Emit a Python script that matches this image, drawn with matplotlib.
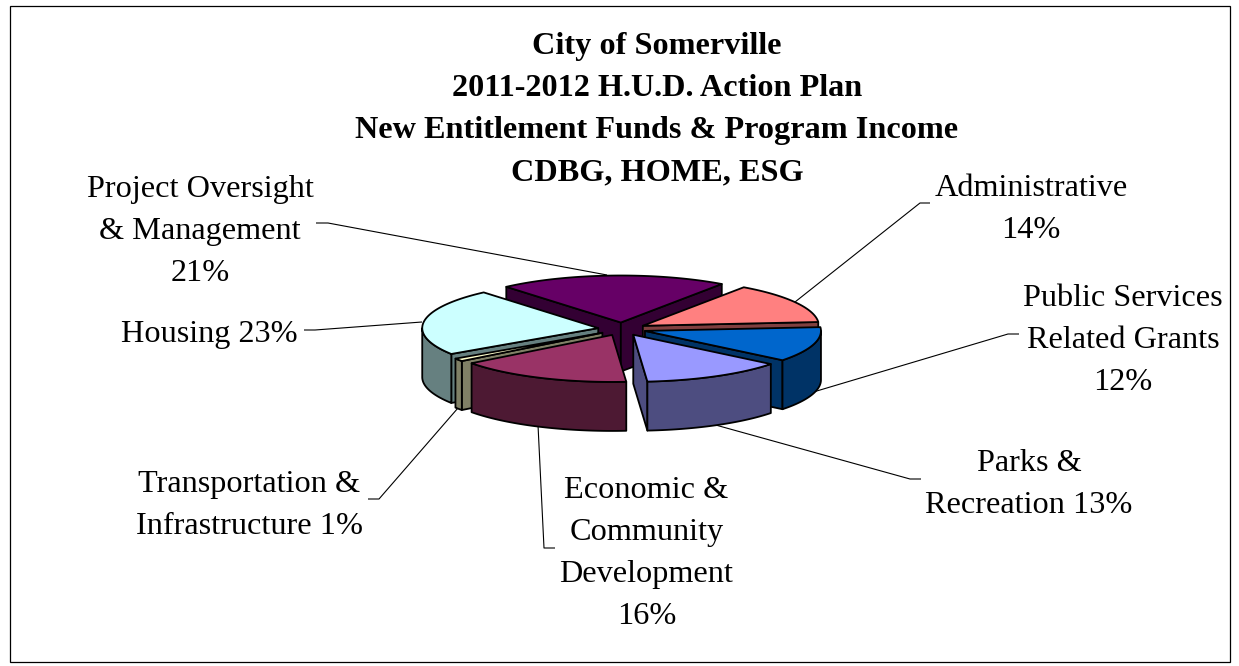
import numpy as np
import matplotlib
matplotlib.use("Agg")
import matplotlib.pyplot as plt
from matplotlib.patches import Polygon, Rectangle

# ---- data ----
categories = ["Administrative", "Public Services Related Grants", "Parks & Recreation",
              "Economic & Community Development", "Transportation & Infrastructure",
              "Housing", "Project Oversight & Management"]
shares = [14, 12, 13, 16, 1, 23, 21]
top_colors = ["#FF8080", "#0066CC", "#9999FF", "#993366", "#FFFFCC", "#CCFFFF", "#660066"]
side_colors = ["#804040", "#003366", "#4D4D80", "#4D1933", "#808066", "#668080", "#330033"]
title_lines = ["City of Somerville", "2011-2012 H.U.D. Action Plan",
               "New Entitlement Funds & Program Income", "CDBG, HOME, ESG"]
label_texts = [["Administrative", "14%"], ["Public Services", "Related Grants", "12%"],
               ["Parks &", "Recreation 13%"],
               ["Economic &", "Community", "Development", "16%"],
               ["Transportation &", "Infrastructure 1%"],
               ["Housing 23%"], ["Project Oversight", "& Management", "21%"]]

# ---- layout (pixel-like axes coordinates) ----
W, H = 1239, 666
CX, CY = 622, 329
RX, RY = 176, 47
DEPTH = 49
EXPLODE_X, EXPLODE_Y = 24, 6.5
START = 35.0
paint_order = [6, 0, 5, 1, 4, 2, 3]
TITLE_X, TITLE_Y0 = 657, 54
PITCH = 42
label_anchor = [(1031, 196), (1123, 306), (1029, 471), (646.5, 498), (249, 492), (209, 342), (200, 197)]
leaders = [[(795, 302), (920, 203), (930, 203)],
           [(810, 393), (1008, 334), (1019, 334)],
           [(712, 424), (910, 479), (921, 479)],
           [(538, 425), (544, 548), (555, 548)],
           [(458, 408), (379, 499), (368, 499)],
           [(422, 322), (315, 330), (304, 330)],
           [(607, 275), (328, 223), (316, 223)]]
SERIF = "Liberation Serif"
FS = 23.2
LW = 1.3

fig = plt.figure(figsize=(W / 100, H / 100), dpi=100)
ax = fig.add_axes([0, 0, 1, 1])
ax.set_xlim(0, W)
ax.set_ylim(H, 0)
ax.axis("off")
ax.add_patch(Rectangle((9.5, 6.2), 1220.5, 655.3, fc="white", ec="black", lw=0.9, zorder=0))


def rim(th, ox, oy, dz=0.0):
    t = np.radians(th)
    return np.column_stack([ox + RX * np.sin(t), oy - RY * np.cos(t) + dz])


bounds = START + np.concatenate([[0], np.cumsum(shares)]) * 3.6
z = 2
for i in paint_order:
    a, b = bounds[i], bounds[i + 1]
    mid = np.radians((a + b) / 2)
    ox = CX + EXPLODE_X * np.sin(mid)
    oy = CY - EXPLODE_Y * np.cos(mid)
    apex = np.array([[ox, oy]])
    style = dict(ec="black", lw=LW, joinstyle="round", zorder=z)
    # radial walls that face the viewer
    for th, visible in ((a, np.sin(np.radians(a)) < 0), (b, np.sin(np.radians(b)) > 0)):
        if visible:
            e = rim(np.array([th]), ox, oy)
            wall = np.vstack([apex, e, e + [0, DEPTH], apex + [0, DEPTH]])
            ax.add_patch(Polygon(wall, fc=side_colors[i], **style))
    # outer wall: the part of the arc facing the viewer
    for lo, hi in ((a, b), (a - 360, b - 360)):
        l, h = max(lo, 90), min(hi, 270)
        if h > l:
            th = np.linspace(l, h, 80)
            upper = rim(th, ox, oy)
            ax.add_patch(Polygon(np.vstack([upper, rim(th[::-1], ox, oy, DEPTH)]),
                                 fc=side_colors[i], **style))
    # top face
    th = np.linspace(a, b, 160)
    ax.add_patch(Polygon(np.vstack([apex, rim(th, ox, oy)]), fc=top_colors[i], **style))
    z += 1

for pts in leaders:
    xs, ys = zip(*pts)
    ax.plot(xs, ys, color="black", lw=0.8, zorder=1, solid_capstyle="butt")

for k, line in enumerate(title_lines):
    ax.text(TITLE_X, TITLE_Y0 + k * PITCH, line, family=SERIF, weight="bold", fontsize=FS,
            ha="center", va="baseline", color="black", zorder=20)

for (x, y), lines in zip(label_anchor, label_texts):
    for k, line in enumerate(lines):
        ax.text(x, y + k * PITCH, line, family=SERIF, fontsize=FS, ha="center", va="baseline",
                color="black", zorder=20)

fig.savefig("out.png", dpi=100, facecolor="white")
